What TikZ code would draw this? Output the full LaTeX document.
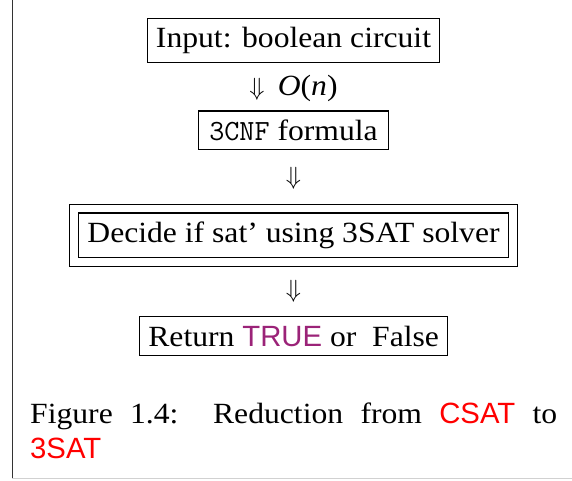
\documentclass[tikz,border=0pt]{standalone}
\usepackage{fontspec}
\setmainfont[FakeStretch=1.08]{Liberation Serif}
\setsansfont{Liberation Sans}
\usepackage{tikz}
\definecolor{truecol}{RGB}{155,35,120}
\newcommand{\bigdown}{{\fontsize{34}{36}\selectfont$\Downarrow$}}
\tikzset{
  box/.style={draw, inner sep=8.8pt, line width=1.2pt},
  downarr/.style={inner sep=0pt}
}

\begin{document}
\begin{tikzpicture}[x=1pt, y=1pt, font=\fontsize{29.3}{35.2}\selectfont]
 \useasboundingbox (0,0) rectangle (572,480);
 % frame of the page
 \draw[black!80, line width=1pt] (12.3,480) -- (12.3,1.7);
 \draw[black!18, line width=1.2pt] (12.3,1.7) -- (572,1.7);

 \node[box] (input) at (293.5,439.5) {Input: boolean circuit};
 \node[downarr] (down1) at (293.5,392) {\bigdown\hspace{0.45em}{\itshape O}({\itshape n})};
 \node[box, inner xsep=10.5pt] (cnf) at (293.5,349.8) {\texttt{3CNF} formula};
 \node[downarr] (down2) at (293.5,302) {\bigdown};
 \node[box, double, double distance=7.7pt, inner sep=13.2pt] (decide) at (293.5,244.7) {Decide if sat’ using 3SAT solver};
 \node[downarr] (down3) at (293.5,189) {\bigdown};
 \node[box] (result) at (293.7,144) {Return {\sffamily\color{truecol}TRUE} or\ \ False};

 \node[anchor=north west, inner sep=0pt, text width=527pt, align=justify] (caption) at (30,77.3)
   {Figure 1.4:\ \ Reduction from {\sffamily\color{red}CSAT} to\linebreak {\sffamily\color{red}3SAT}};
\end{tikzpicture}
\end{document}
